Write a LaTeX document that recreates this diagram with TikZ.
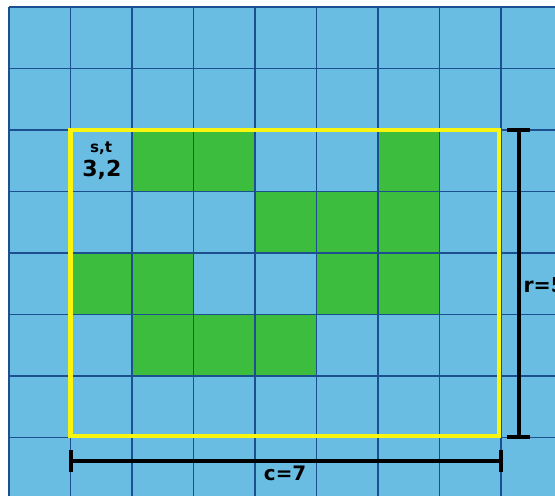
\documentclass[tikz,border=0pt]{standalone}
\usepackage{fontspec}
\setmainfont{DejaVu Sans}
\usetikzlibrary{arrows.meta}
\definecolor{water}{HTML}{69BDE2}
\definecolor{grass}{HTML}{3DBD3D}
\definecolor{gridblue}{HTML}{1B4F8F}
\definecolor{frame}{HTML}{F8F510}

\tikzset{
  land/.style={fill=grass},
  cellline/.style={draw=gridblue,line width=.5pt},
  islandbox/.style={draw=frame,line width=1.9pt},
  dimline/.style={line width=1.9pt,{Bar[width=3.7mm,line width=1.9pt]}-{Bar[width=3.7mm,line width=1.9pt]}},
  lbl/.style={font=\bfseries,inner sep=0pt}
}

\begin{document}
\begin{tikzpicture}
            \useasboundingbox (-0.146,0.114) rectangle (8.878,-7.935);
            \clip (-0.146,0.114) rectangle (8.878,-7.935);
            % sea and land cells
            \fill[water] (0,0) rectangle (9,-8);
            \foreach \c/\r in {2/2,3/2,6/2,4/3,5/3,6/3,1/4,2/4,5/4,6/4,2/5,3/5,4/5}
              \fill[land] (\c,-\r) rectangle ++(1,-1);
            \draw[cellline] (0,0) grid (9,-8);
            \draw[islandbox] (1.0,-2.0) rectangle (7.97,-6.98);
            % dimensions
            \coordinate (rtop) at (8.29,-1.97);
            \coordinate (rbot) at (8.29,-7.03);
            \coordinate (cleft) at (0.97,-7.38);
            \coordinate (cright) at (8.03,-7.38);
            \draw[dimline] (rtop) -- (rbot);
            \draw[dimline] (cleft) -- (cright);
            \draw (8.36,-4.52) node[lbl,anchor=west,font=\bfseries\fontsize{9.5}{11}\selectfont] (rlabel) {r=5};
            \draw (4.49,-7.59) node[lbl,font=\bfseries\fontsize{9.2}{11}\selectfont] (clabel) {c=7};
            \draw (1.50,-2.29) node[lbl,font=\bfseries\fontsize{7}{8}\selectfont] (stlabel) {s,t};
            \draw (1.51,-2.65) node[lbl,font=\bfseries\fontsize{10.2}{12}\selectfont] (start) {3,2};
\end{tikzpicture}
\end{document}
